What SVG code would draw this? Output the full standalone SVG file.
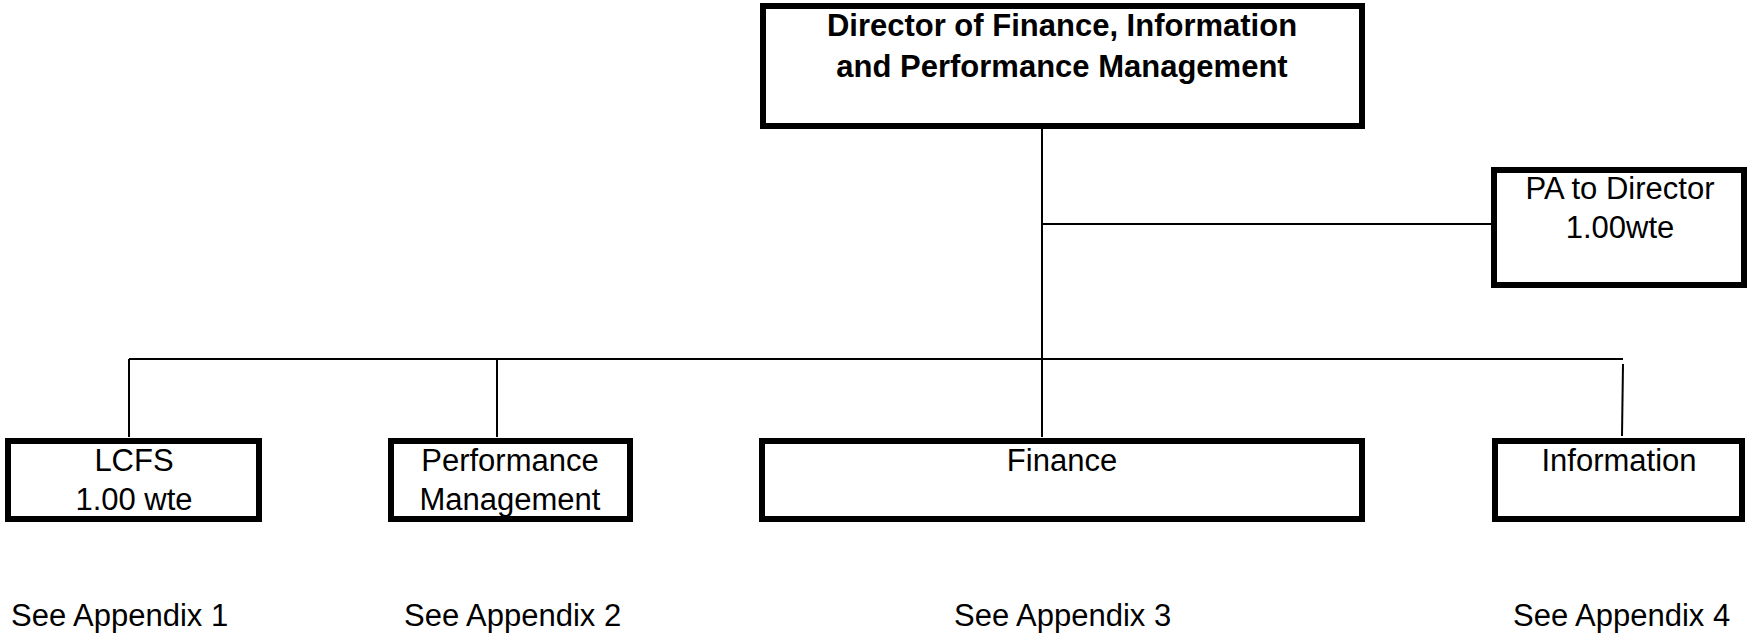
<svg xmlns="http://www.w3.org/2000/svg" width="1748" height="635" viewBox="0 0 1748 635">
<style>
.box{fill:#fff;stroke:#000;stroke-width:6}
.t{font-family:"Liberation Sans",Arial,sans-serif;font-size:31px;fill:#000;text-anchor:middle}
.b{font-weight:bold}
.l{text-anchor:start}
.c{stroke:#000;stroke-width:2;fill:none}
</style>
<rect width="1748" height="635" fill="#fff"/>
<g id="connectors">
<line class="c" x1="1042" y1="127" x2="1042" y2="437"/>
<line class="c" x1="1042" y1="224" x2="1491" y2="224"/>
<line class="c" x1="129" y1="359" x2="1623" y2="359"/>
<line class="c" x1="129" y1="359" x2="129" y2="437"/>
<line class="c" x1="497" y1="359" x2="497" y2="437"/>
<line class="c" x1="1623" y1="364" x2="1622" y2="436"/>
</g>
<g id="director">
<rect class="box" x="763" y="6" width="599" height="120"/>
<text class="t b" x="1062" y="36">Director of Finance, Information</text>
<text class="t b" x="1062" y="77">and Performance Management</text>
</g>
<g id="pa">
<rect class="box" x="1494" y="170" width="250" height="115"/>
<text class="t" x="1620" y="199">PA to Director</text>
<text class="t" x="1620" y="238">1.00wte</text>
</g>
<g id="lcfs">
<rect class="box" x="8" y="441" width="251" height="78"/>
<text class="t" x="134" y="471">LCFS</text>
<text class="t" x="134" y="510">1.00 wte</text>
</g>
<g id="performance">
<rect class="box" x="391" y="441" width="239" height="78"/>
<text class="t" x="510" y="471">Performance</text>
<text class="t" x="510" y="510">Management</text>
</g>
<g id="finance">
<rect class="box" x="762" y="441" width="600" height="78"/>
<text class="t" x="1062" y="471">Finance</text>
</g>
<g id="information">
<rect class="box" x="1495" y="441" width="247" height="78"/>
<text class="t" x="1619" y="471">Information</text>
</g>
<g id="notes">
<text class="t l" x="11" y="626">See Appendix 1</text>
<text class="t l" x="404" y="626">See Appendix 2</text>
<text class="t l" x="954" y="626">See Appendix 3</text>
<text class="t l" x="1513" y="626">See Appendix 4</text>
</g>
</svg>
